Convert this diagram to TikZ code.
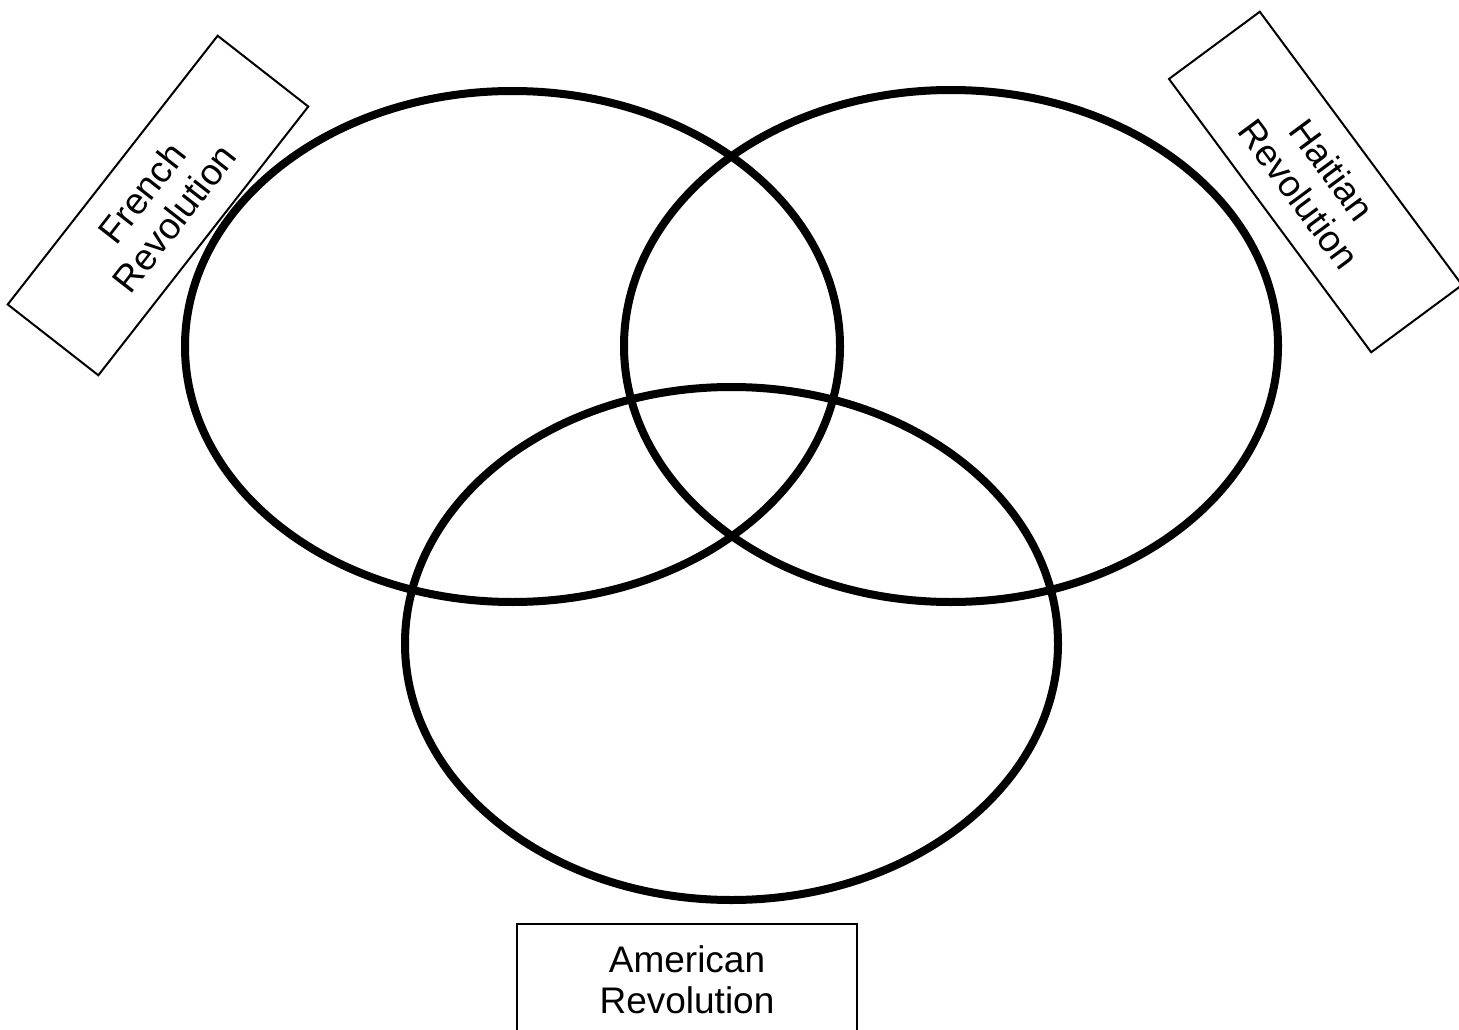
\documentclass[tikz,border=0pt]{standalone}
\usepackage{fontspec}
\setmainfont{Liberation Sans}
\begin{document}
\begin{tikzpicture}[x=1pt,y=-1pt,
  ring/.style={draw=black,line width=8pt},
  label box/.style={draw=black,line width=2pt,align=center,
    font=\fontsize{37}{41}\selectfont,inner sep=0pt}]
\useasboundingbox (0,0) rectangle (1459,1030);
\clip (0,0) rectangle (1459,1030);
\fill[white] (0,0) rectangle (1459,1030);
% labels
\node[label box, rotate=52, minimum width=341pt, minimum height=115pt] (french) at (158,205.5) {French\\Revolution};
\node[label box, rotate=-53.5, minimum width=340pt, minimum height=113pt] (haiti) at (1315.5,182) {Haitian\\Revolution};
\node[label box, anchor=north, minimum width=340pt, text width=330pt, inner ysep=22pt] (amer) at (687,923) {American\\Revolution};
% circles
\draw[ring] (512.5,346.5) ellipse [x radius=327.5, y radius=255.5];
\draw[ring] (951,346) ellipse [x radius=327, y radius=256];
\draw[ring] (731.5,643.5) ellipse [x radius=326.5, y radius=256.5];
\end{tikzpicture}
\end{document}
